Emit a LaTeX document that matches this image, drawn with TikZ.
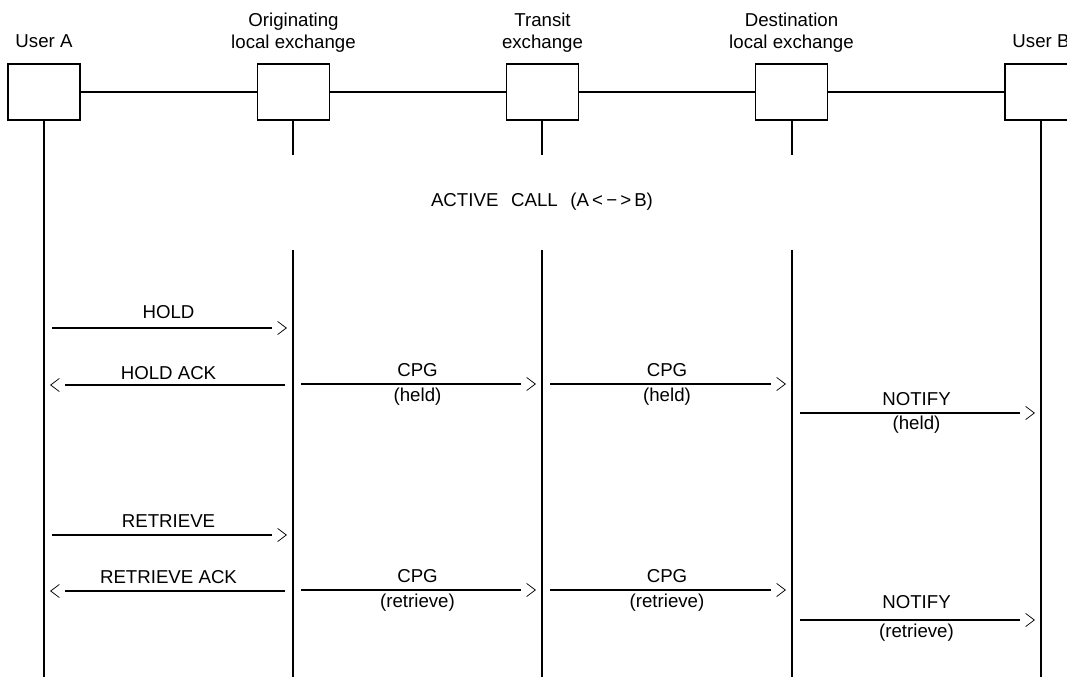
\documentclass[tikz,border=0pt]{standalone}
\usepackage{fontspec}
\setmainfont{Liberation Sans}
\usetikzlibrary{decorations.markings}
\begin{document}
\begin{tikzpicture}[x=0.75pt,y=-0.75pt,
  every node/.style={font=\fontsize{14}{16.5}\selectfont, inner sep=0pt},
  ent/.style={draw, line width=0.8pt, minimum width=54pt, minimum height=42pt},
  bus/.style={line width=1.1pt},
  life/.style={line width=1.1pt},
  chev/.style={line width=0.55pt, shorten <=0pt, shorten >=0pt},
  msg/.style={line width=1.1pt, shorten <=6pt, shorten >=16pt,
    postaction={decorate, decoration={markings,
      mark=at position 1 with {\draw[chev] (-11.5pt,4.9pt) -- (-5pt,0pt) -- (-11.5pt,-4.9pt);}}}},
  abv/.style={midway, anchor=base, yshift=6pt},
  blw/.style={midway, anchor=base, yshift=-12.75pt},
  ttl/.style={anchor=base, align=center}
]
\useasboundingbox (0,0) rectangle (1067,677);

% entities
\node[ent] (A) at (44,92) {};
\node[ent] (O) at (293.5,92) {};
\node[ent] (T) at (542.5,92) {};
\node[ent] (D) at (791.5,92) {};
\node[ent] (B) at (1041,92) {};

% titles (base = baseline of last line)
\node[ttl] (tA) at (44,48) {User A};
\node[ttl] (tO) at (293.5,49) {Originating\\local exchange};
\node[ttl] (tT) at (542.5,49) {Transit\\exchange};
\node[ttl] (tD) at (791.5,49) {Destination\\local exchange};
\node[ttl] (tB) at (1041,48) {User B};

% bus
\draw[bus] (A) -- (O) -- (T) -- (D) -- (B);

% lifeline coordinates
\coordinate (A-end) at (44,677);
\coordinate (B-end) at (1041,677);
\foreach \n/\x in {O/293,T/542,D/792}{
  \coordinate (\n-s1) at (\x,120);
  \coordinate (\n-e1) at (\x,155);
  \coordinate (\n-s2) at (\x,250);
  \coordinate (\n-end) at (\x,677);
}
\draw[life] (A.south) -- (A-end);
\draw[life] (B.south -| B-end) -- (B-end);
\foreach \n in {O,T,D}{
  \draw[life] (\n-s1) -- (\n-e1);
  \draw[life] (\n-s2) -- (\n-end);
}

\node[anchor=base] (active) at (542,207) {ACTIVE\hspace{9.5pt}CALL\hspace{9.5pt}(A\,<\,−\,>\,B)};

% message anchor points
\foreach \m/\y in {hold/328, hack/385, cpg1/384, not1/413, ret/535, rack/591, cpg2/590, not2/620}{
  \coordinate (A-\m) at (44,\y);
  \coordinate (O-\m) at (293,\y);
  \coordinate (T-\m) at (542,\y);
  \coordinate (D-\m) at (792,\y);
  \coordinate (B-\m) at (1041,\y);
}

% hold phase
\draw[msg] (A-hold) -- (O-hold) node[abv, yshift=0.75pt] {HOLD};
\draw[msg] (O-hack) -- (A-hack) node[abv, yshift=-1.5pt] {HOLD ACK};
\draw[msg] (O-cpg1) -- (T-cpg1) node[abv] {CPG} node[blw] {(held)};
\draw[msg] (T-cpg1) -- (D-cpg1) node[abv] {CPG} node[blw] {(held)};
\draw[msg] (D-not1) -- (B-not1) node[abv] {NOTIFY} node[blw, yshift=0.75pt] {(held)};

% retrieve phase
\draw[msg] (A-ret) -- (O-ret) node[abv] {RETRIEVE};
\draw[msg] (O-rack) -- (A-rack) node[abv] {RETRIEVE ACK};
\draw[msg] (O-cpg2) -- (T-cpg2) node[abv] {CPG} node[blw] {(retrieve)};
\draw[msg] (T-cpg2) -- (D-cpg2) node[abv] {CPG} node[blw] {(retrieve)};
\draw[msg, line width=0.8pt] (D-not2) -- (B-not2) node[abv, yshift=3pt] {NOTIFY} node[blw] {(retrieve)};
\end{tikzpicture}
\end{document}
